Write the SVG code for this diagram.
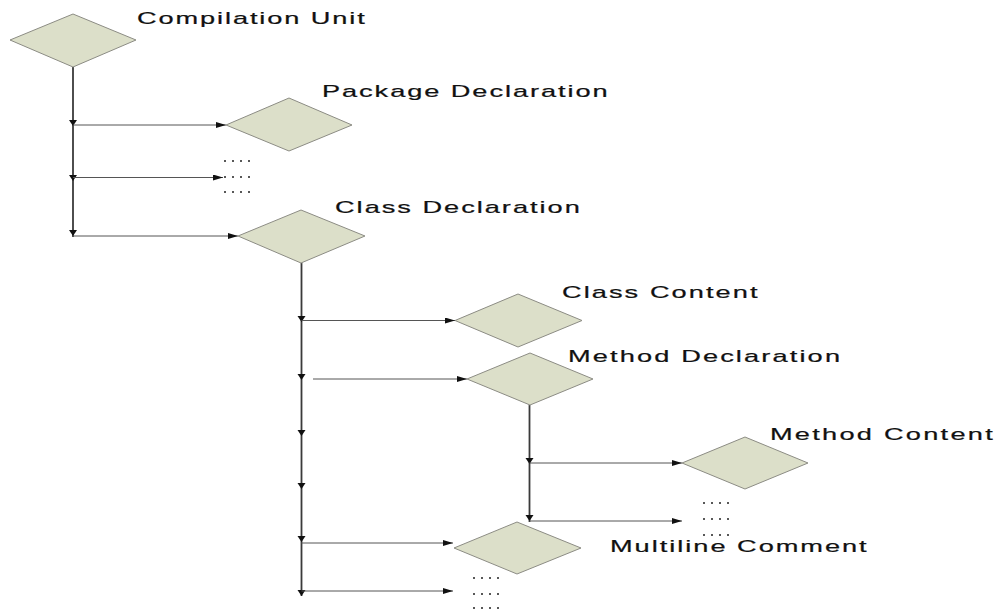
<svg xmlns="http://www.w3.org/2000/svg" width="996" height="610" viewBox="0 0 996 610">
  <style>
    .node { fill: #dcdfc9; stroke: #8c8c84; stroke-width: 1; }
    .label { font-family: "Liberation Sans", Arial, sans-serif; font-size: 16px; fill: #111; stroke: #111; stroke-width: 0.2; }
    .trunk { stroke: #3a3a3a; stroke-width: 1.8; fill: none; }
    .branch { stroke: #555; stroke-width: 1; fill: none; marker-end: url(#arrow); }
    .dots { stroke: #222; stroke-width: 1.6; stroke-dasharray: 2 6; fill: none; }
    .tick { fill: #111; }
  </style>
  <defs>
    <marker id="arrow" viewBox="0 0 10 6" refX="10" refY="3" markerWidth="10" markerHeight="6" markerUnits="userSpaceOnUse" orient="auto">
      <path d="M0,0 L10,3 L0,6 Z" fill="#111"/>
    </marker>
    <path id="down" d="M-4,-5 L4,-5 L0,1 Z"/>
  </defs>

  <rect width="996" height="610" fill="#fff"/>

  <!-- connectors -->
  <g id="connectors">
    <!-- compilation unit trunk -->
    <line class="trunk" x1="73" y1="67" x2="73" y2="237"/>
    <use href="#down" class="tick" x="73" y="125"/>
    <use href="#down" class="tick" x="73" y="180"/>
    <use href="#down" class="tick" x="73" y="235"/>
    <line class="branch" x1="73" y1="125" x2="226" y2="125"/>
    <line class="branch" x1="73" y1="177.5" x2="223" y2="177.5"/>
    <line class="branch" x1="73" y1="236" x2="238" y2="236"/>

    <!-- class declaration trunk -->
    <line class="trunk" x1="301.5" y1="263" x2="301.5" y2="596"/>
    <use href="#down" class="tick" x="301.5" y="321"/>
    <use href="#down" class="tick" x="301.5" y="379"/>
    <use href="#down" class="tick" x="301.5" y="435"/>
    <use href="#down" class="tick" x="301.5" y="488"/>
    <use href="#down" class="tick" x="301.5" y="541"/>
    <use href="#down" class="tick" x="301.5" y="595"/>
    <line class="branch" x1="301.5" y1="320.5" x2="455" y2="320.5"/>
    <line class="branch" x1="313" y1="379" x2="467" y2="379"/>
    <line class="branch" x1="301.5" y1="543" x2="453" y2="543"/>
    <line class="branch" x1="301.5" y1="591" x2="453" y2="591"/>

    <!-- method declaration trunk -->
    <line class="trunk" x1="529.5" y1="405" x2="529.5" y2="522"/>
    <use href="#down" class="tick" x="529.5" y="463"/>
    <use href="#down" class="tick" x="529.5" y="520"/>
    <line class="branch" x1="529.5" y1="463" x2="682" y2="463"/>
    <line class="branch" x1="529.5" y1="521" x2="682" y2="521"/>

    <!-- elided siblings -->
    <line class="dots" x1="224" y1="161" x2="256" y2="161"/>
    <line class="dots" x1="224" y1="177" x2="256" y2="177"/>
    <line class="dots" x1="224" y1="192" x2="256" y2="192"/>
    <line class="dots" x1="703" y1="503" x2="735" y2="503"/>
    <line class="dots" x1="703" y1="519" x2="735" y2="519"/>
    <line class="dots" x1="703" y1="535" x2="735" y2="535"/>
    <line class="dots" x1="473" y1="578" x2="505" y2="578"/>
    <line class="dots" x1="473" y1="594" x2="505" y2="594"/>
    <line class="dots" x1="473" y1="608" x2="505" y2="608"/>
  </g>

  <!-- labels are drawn wide: glyphs stretched 1.7x, a little extra spacing fills the rest -->
  <g id="compilation-unit">
    <polygon class="node" points="10,40 73,14 136,40 73,67"/>
    <text class="label" transform="translate(137 24) scale(1.7 1)" textLength="134" lengthAdjust="spacing">Compilation Unit</text>
  </g>

  <g id="package-declaration">
    <polygon class="node" points="226,125 289,98 352,125 289,151"/>
    <text class="label" transform="translate(322 97) scale(1.7 1)" textLength="168" lengthAdjust="spacing">Package Declaration</text>
  </g>

  <g id="class-declaration">
    <polygon class="node" points="238,236 301,210 365,236 301,263"/>
    <text class="label" transform="translate(335 213) scale(1.7 1)" textLength="144" lengthAdjust="spacing">Class Declaration</text>
  </g>

  <g id="class-content">
    <polygon class="node" points="455,320.5 518,294 582,320.5 518,347"/>
    <text class="label" transform="translate(562 298) scale(1.7 1)" textLength="115" lengthAdjust="spacing">Class Content</text>
  </g>

  <g id="method-declaration">
    <polygon class="node" points="467,379 530,353 593,379 530,405"/>
    <text class="label" transform="translate(568 362) scale(1.7 1)" textLength="160" lengthAdjust="spacing">Method Declaration</text>
  </g>

  <g id="method-content">
    <polygon class="node" points="682,463 745,437 808,463 745,489"/>
    <text class="label" transform="translate(770 440) scale(1.7 1)" textLength="131" lengthAdjust="spacing">Method Content</text>
  </g>

  <g id="multiline-comment">
    <polygon class="node" points="454,548 517,522 581,548 517,574"/>
    <text class="label" transform="translate(610 552) scale(1.7 1)" textLength="151" lengthAdjust="spacing">Multiline Comment</text>
  </g>
</svg>
